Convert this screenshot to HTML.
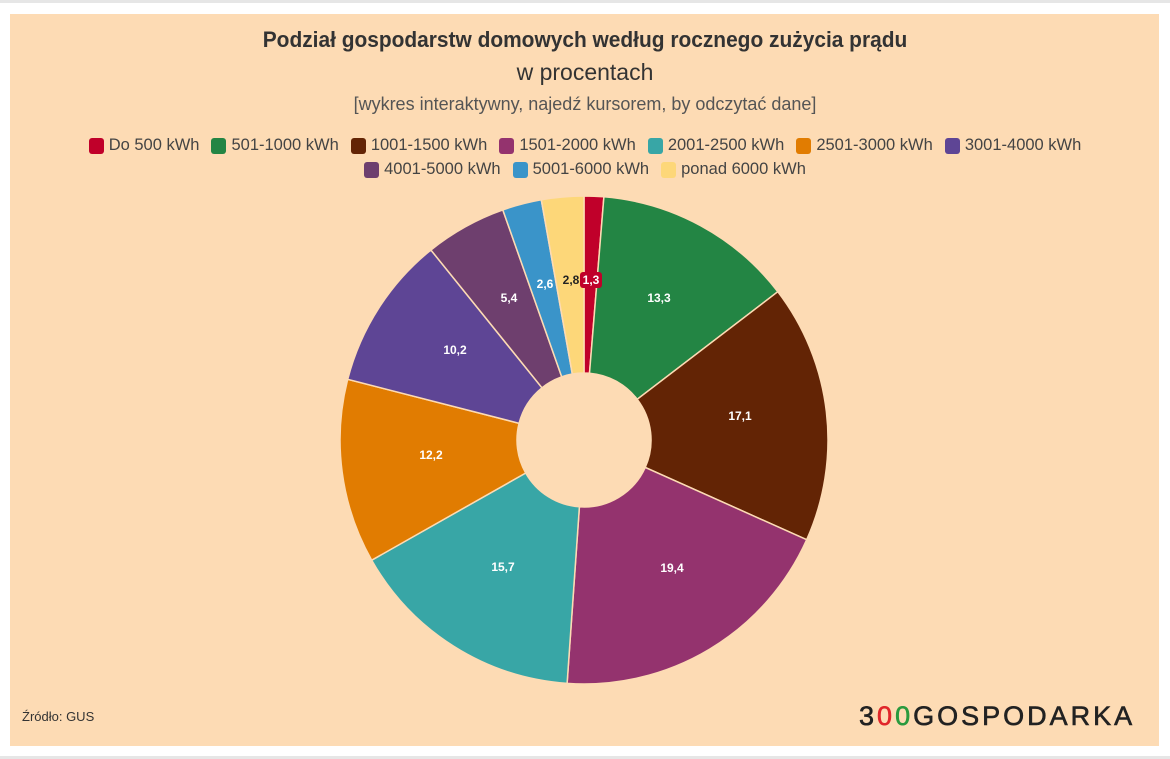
<!DOCTYPE html>
<html><head><meta charset="utf-8"><style>
body{margin:0;width:1170px;height:759px;background:#fff;font-family:"Liberation Sans",sans-serif;position:relative;overflow:hidden}
.top{position:absolute;left:0;top:0;width:1170px;height:3px;background:#e6e6e6}
.bot{position:absolute;left:0;top:756px;width:1170px;height:3px;background:#e6e6e6}
.panel{position:absolute;left:10px;top:14px;width:1149px;height:732px;background:#fddbb4}
.t{position:absolute;left:0;width:1170px;text-align:center;color:#333}
.leg{position:absolute;left:0;width:1170px;display:flex;justify-content:center;font-size:16.5px;color:#444}
.leg span{display:flex;align-items:center;margin:0 6px}
.leg i{display:inline-block;width:15px;height:16px;border-radius:3px;margin-right:5px}
</style></head><body>
<div class="top"></div><div class="bot"></div>
<div class="panel"></div>
<div class="t" style="top:27px;font-size:22px;font-weight:bold;transform:scaleX(0.95)">Podział gospodarstw domowych według rocznego zużycia prądu</div>
<div class="t" style="top:59px;font-size:23px">w procentach</div>
<div class="t" style="top:94px;font-size:18px;color:#555">[wykres interaktywny, najedź kursorem, by odczytać dane]</div>
<div class="leg" style="top:136px">
<span><i style="background:#c0002a"></i>Do 500 kWh</span>
<span><i style="background:#238544"></i>501-1000 kWh</span>
<span><i style="background:#632405"></i>1001-1500 kWh</span>
<span><i style="background:#94336e"></i>1501-2000 kWh</span>
<span><i style="background:#38a6a6"></i>2001-2500 kWh</span>
<span><i style="background:#e17c01"></i>2501-3000 kWh</span>
<span><i style="background:#5e4595"></i>3001-4000 kWh</span>
</div>
<div class="leg" style="top:160px">
<span><i style="background:#6e3f6e"></i>4001-5000 kWh</span>
<span><i style="background:#3a94c9"></i>5001-6000 kWh</span>
<span><i style="background:#fdd779"></i>ponad 6000 kWh</span>
</div>
<svg width="1170" height="759" style="position:absolute;left:0;top:0" font-family="Liberation Sans,sans-serif" font-size="12" font-weight="bold" text-anchor="middle">
<g stroke="#fddbb4" stroke-width="1.5">
<path d="M584,196 A244,244 0 0 1 603.9,196.8 L589.5,373.2 A67,67 0 0 0 584,373 Z" fill="#c0002a"/>
<path d="M603.9,196.8 A244,244 0 0 1 777.8,291.7 L637.2,399.3 A67,67 0 0 0 589.5,373.2 Z" fill="#238544"/>
<path d="M777.8,291.7 A244,244 0 0 1 806.7,539.7 L645.2,467.4 A67,67 0 0 0 637.2,399.3 Z" fill="#632405"/>
<path d="M806.7,539.7 A244,244 0 0 1 567.1,683.4 L579.4,506.8 A67,67 0 0 0 645.2,467.4 Z" fill="#94336e"/>
<path d="M567.1,683.4 A244,244 0 0 1 371.7,560.2 L525.7,473.0 A67,67 0 0 0 579.4,506.8 Z" fill="#38a6a6"/>
<path d="M371.7,560.2 A244,244 0 0 1 347.7,379.3 L519.1,423.3 A67,67 0 0 0 525.7,473.0 Z" fill="#e17c01"/>
<path d="M347.7,379.3 A244,244 0 0 1 430.9,250.0 L542.0,387.8 A67,67 0 0 0 519.1,423.3 Z" fill="#5e4595"/>
<path d="M430.9,250.0 A244,244 0 0 1 502.8,209.9 L561.7,376.8 A67,67 0 0 0 542.0,387.8 Z" fill="#6e3f6e"/>
<path d="M502.8,209.9 A244,244 0 0 1 541.3,199.8 L572.3,374.0 A67,67 0 0 0 561.7,376.8 Z" fill="#3a94c9"/>
<path d="M541.3,199.8 A244,244 0 0 1 584,196 L584,373 A67,67 0 0 0 572.3,374.0 Z" fill="#fdd779"/>
</g>
<g fill="#fff">
<rect x="580" y="272" width="22" height="16" rx="3" fill="#c0002a"/>
<text x="591" y="284">1,3</text>
<text x="659" y="302">13,3</text>
<text x="740" y="420">17,1</text>
<text x="672" y="572">19,4</text>
<text x="503" y="571">15,7</text>
<text x="431" y="459">12,2</text>
<text x="455" y="354">10,2</text>
<text x="509" y="302">5,4</text>
<text x="545" y="288">2,6</text>
<text x="571" y="284" fill="#222">2,8</text>
</g>
<text x="22" y="721" font-size="13" font-weight="normal" text-anchor="start" fill="#333">Źródło: GUS</text>
<text x="859" y="725" font-size="27" font-weight="normal" text-anchor="start" fill="#222" letter-spacing="3" stroke="#222" stroke-width="0.6">3<tspan fill="#e0262a" stroke="#e0262a">0</tspan><tspan fill="#2a9a3e" stroke="#2a9a3e">0</tspan>GOSPODARKA</text>
</svg>
</body></html>
